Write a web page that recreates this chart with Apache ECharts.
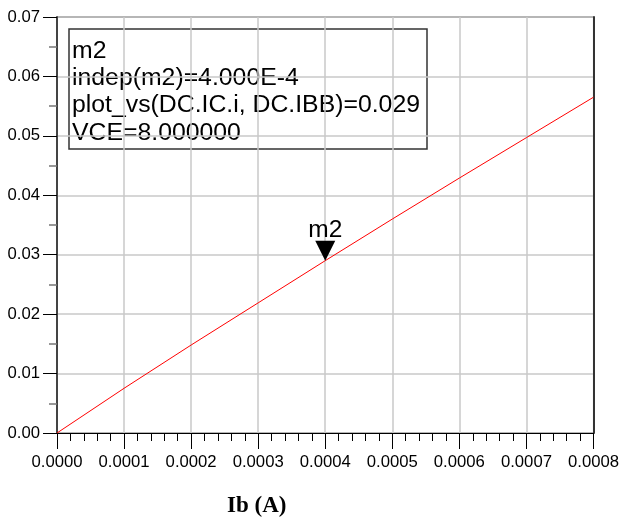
<!DOCTYPE html>
<html>
<head>
<meta charset="utf-8">
<script src="https://cdn.jsdelivr.net/npm/echarts@6/dist/echarts.min.js"></script>
<style>html,body{margin:0;padding:0;background:#fff;}#c{width:622px;height:518px;}</style>
</head>
<body>
<div id="c"></div>
<script>
var ibValues = [0, 0.0001, 0.0002, 0.0003, 0.0004, 0.0005, 0.0006, 0.0007, 0.0008];
var icValues = [0, 0.00752, 0.0148, 0.0219, 0.0290, 0.0360, 0.0429, 0.0497, 0.0565];
var markerName = 'm2';
var markerX = 0.0004;
var markerY = 0.029;
var markerLines = ['m2', 'indep(m2)=4.000E-4', 'plot_vs(DC.IC.i, DC.IBB)=0.029', 'VCE=8.000000'];
var xTitle = 'Ib (A)';

var chart = echarts.init(document.getElementById('c'), null, {renderer: 'canvas'});
var FONT = '"Liberation Sans", Arial, sans-serif';
var pts = ibValues.map(function (x, i) { return [x, icValues[i]]; });

var boxTexts = markerLines.map(function (t, i) {
  return {
    type: 'text', left: 72, top: [38.5, 66, 93, 120.5][i],
    style: {text: t, font: '24.8px ' + FONT, fill: '#000'}
  };
});

chart.setOption({
  animation: false,
  backgroundColor: '#fff',
  grid: {left: 57, right: 28, top: 17, bottom: 85, show: true, borderColor: '#000', borderWidth: 1, backgroundColor: 'transparent'},
  xAxis: {
    type: 'value', min: 0, max: 0.0008, interval: 0.0001,
    axisLine: {show: true, onZero: false, lineStyle: {color: '#000', width: 1}},
    axisTick: {show: true, inside: false, length: 16, lineStyle: {color: '#000', width: 1}},
    minorTick: {show: true, splitNumber: 5, length: 8, lineStyle: {color: '#000', width: 1}},
    splitLine: {show: true, lineStyle: {color: '#c8c8c8', width: 1.5}},
    axisLabel: {margin: 21, fontSize: 16.7, fontFamily: FONT, color: '#000', showMaxLabel: true, showMinLabel: true,
      formatter: function (v) { return v.toFixed(4); }}
  },
  yAxis: [{
    type: 'value', min: 0, max: 0.07, interval: 0.01,
    axisLine: {show: true, onZero: false, lineStyle: {color: '#444', width: 2}},
    axisTick: {show: true, inside: false, length: 14, lineStyle: {color: '#000', width: 1}},
    minorTick: {show: true, splitNumber: 2, length: 8, lineStyle: {color: '#777', width: 1.5}},
    splitLine: {show: true, lineStyle: {color: '#c8c8c8', width: 1.5}},
    axisLabel: {margin: 17, fontSize: 16.7, fontFamily: FONT, color: '#000',
      formatter: function (v) { return v.toFixed(2); }}
  }, {
    type: 'value', min: 0, max: 0.07, position: 'right',
    axisLine: {show: true, onZero: false, lineStyle: {color: '#333', width: 2}},
    axisTick: {show: false}, axisLabel: {show: false}, splitLine: {show: false}
  }],
  series: [{
    type: 'line', data: pts, symbol: 'none', silent: true,
    lineStyle: {color: '#ff0000', width: 1},
    markPoint: {
      silent: true,
      symbol: 'path://M0,0 L20,0 L10,20 Z',
      symbolSize: [20, 20],
      symbolOffset: [0, '-50%'],
      itemStyle: {color: '#000'},
      label: {show: true, position: 'top', distance: -2, formatter: markerName, fontSize: 24.5, fontFamily: FONT, color: '#000'},
      data: [{coord: [markerX, markerY]}]
    }
  }],
  graphic: [
    {type: 'rect', shape: {x: 69, y: 29, width: 358, height: 120}, style: {fill: 'none', stroke: '#333', lineWidth: 1.5}}
  ].concat(boxTexts).concat([
    {type: 'text', left: 227, top: 495, style: {text: xTitle, font: 'bold 23px "Liberation Serif", "Times New Roman", serif', fill: '#000'}}
  ])
});
</script>
</body>
</html>
